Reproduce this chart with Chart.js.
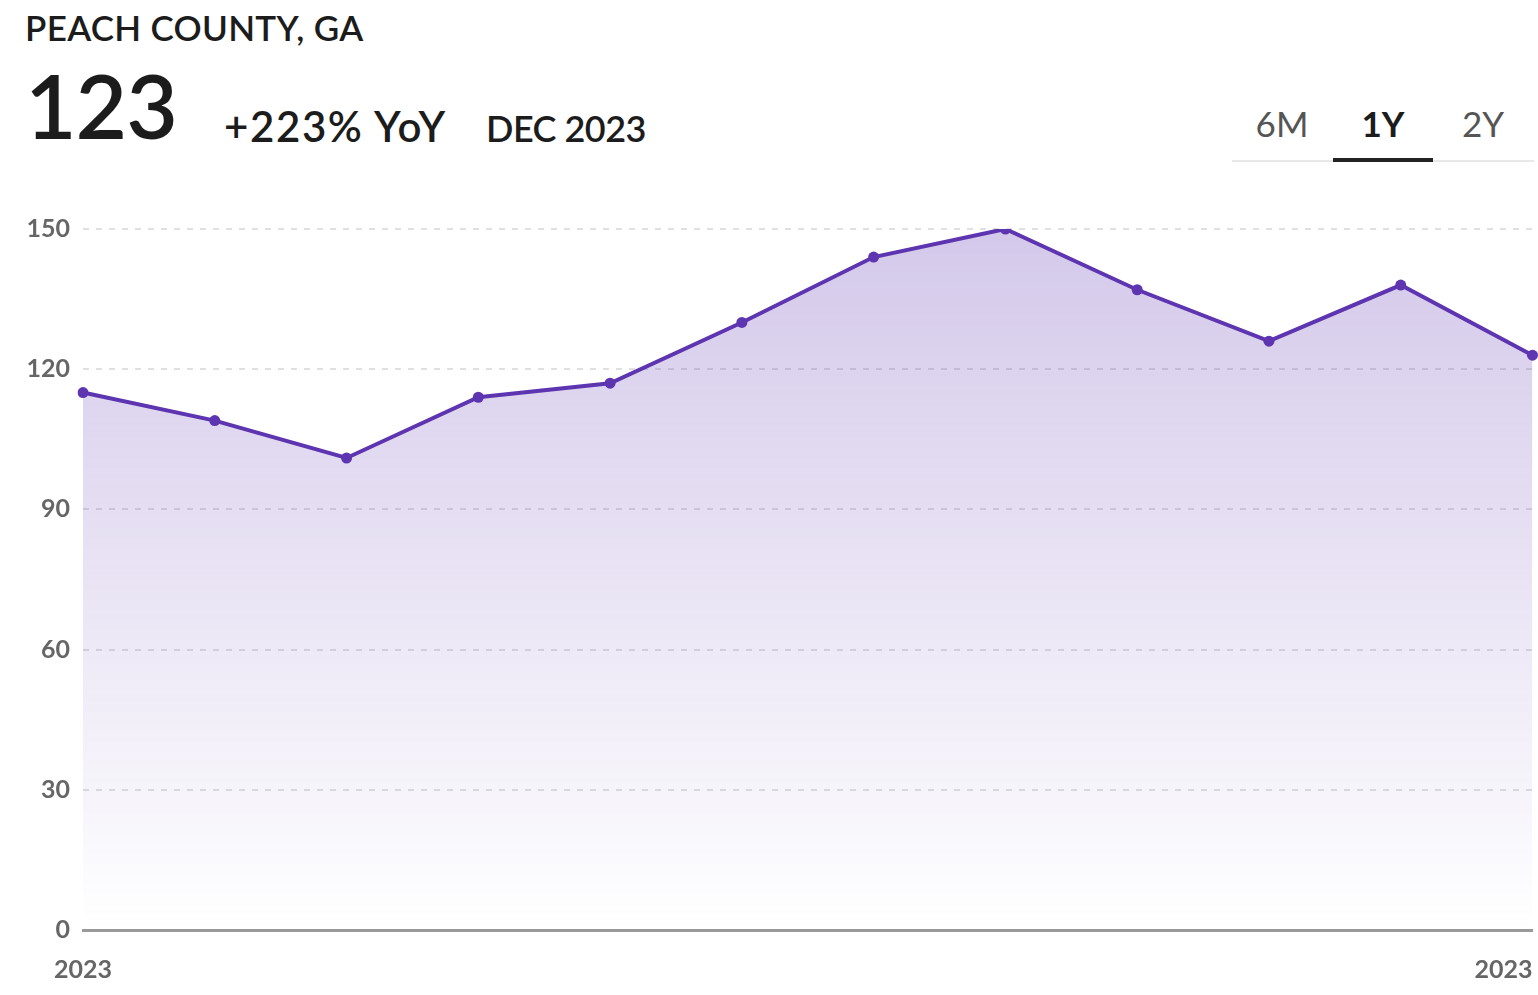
<!DOCTYPE html>
<html>
<head>
<meta charset="utf-8">
<script src="https://cdn.jsdelivr.net/npm/chart.js@4"></script>
<style>
  body { margin: 0; background: #fff; font-family: Lato, "Noto Sans", sans-serif; color: #1c1c1c; }
  #wrap { position: relative; width: 1538px; height: 995px; overflow: hidden; }
  .title { position: absolute; left: 25px; top: 6px; font-size: 35px; font-weight: 600; letter-spacing: 0.3px; }
  .big { position: absolute; left: 25px; top: 60px; font-size: 89px; font-weight: 600; line-height: 1; letter-spacing: -1px; }
  .yoy { position: absolute; left: 224px; top: 101px; font-size: 42px; font-weight: 600; letter-spacing: 1.6px; }
  .date { position: absolute; left: 486px; top: 106px; font-size: 36px; font-weight: 600; letter-spacing: -0.5px; }
  .tabs { position: absolute; left: 1232px; top: 102px; width: 302px; height: 58px; border-bottom: 2px solid #e8e8e8; }
  .tab { position: absolute; top: 0; width: 100px; text-align: center; font-size: 35px; color: #555; }
  .tab.on { color: #1c1c1c; font-weight: 700; border-bottom: 4px solid #222; height: 60px; box-sizing: border-box; }
  #chartBox { position: absolute; left: 0; top: 190px; width: 1538px; height: 805px; }
</style>
</head>
<body>
<div id="wrap">
  <div class="title">PEACH COUNTY, GA</div>
  <div class="big">123</div>
  <div class="yoy">+223% YoY</div>
  <div class="date">DEC 2023</div>
  <div class="tabs">
    <div class="tab" style="left:0">6M</div>
    <div class="tab on" style="left:101px">1Y</div>
    <div class="tab" style="left:201px">2Y</div>
  </div>
  <div id="chartBox"><canvas id="chart"></canvas></div>
</div>
<script>
// ===== DATA =====
const months = ['Jan 2023', 'Feb 2023', 'Mar 2023', 'Apr 2023', 'May 2023', 'Jun 2023',
  'Jul 2023', 'Aug 2023', 'Sep 2023', 'Oct 2023', 'Nov 2023', 'Dec 2023'];
const values = [115, 109, 101, 114, 117, 130, 144, 150, 137, 126, 138, 123];
const xTickLabels = ['2023', '', '', '', '', '', '', '', '', '', '', '2023'];
const yTicks = [0, 30, 60, 90, 120, 150];

const PURPLE = '#5e35b1';

// draw the two year labels under the axis (first centered, last flush right)
const yearLabels = {
  id: 'yearLabels',
  afterDraw(chart) {
    const { ctx, scales: { x } } = chart;
    ctx.save();
    ctx.font = 'bold 25px Lato';
    ctx.fillStyle = '#666';
    ctx.textBaseline = 'middle';
    const y = x.top + 40;
    xTickLabels.forEach((lbl, i) => {
      if (!lbl) return;
      const px = x.getPixelForValue(i);
      ctx.textAlign = i === xTickLabels.length - 1 ? 'right' : 'center';
      ctx.fillText(lbl, px, y);
    });
    ctx.restore();
  }
};

const ctx = document.getElementById('chart');
new Chart(ctx, {
  type: 'line',
  data: {
    labels: months,
    datasets: [{
      data: values,
      borderColor: PURPLE,
      borderWidth: 4,
      pointRadius: 5.5,
      pointBackgroundColor: PURPLE,
      pointBorderWidth: 0,
      tension: 0,
      fill: 'origin',
      backgroundColor: (c) => {
        const area = c.chart.chartArea;
        if (!area) return 'rgba(94,53,177,0.2)';
        const g = c.chart.ctx.createLinearGradient(0, area.top, 0, area.bottom);
        g.addColorStop(0, 'rgba(94,53,177,0.27)');
        g.addColorStop(1, 'rgba(94,53,177,0)');
        return g;
      }
    }]
  },
  options: {
    responsive: true,
    maintainAspectRatio: false,
    animation: false,
    layout: { padding: { top: 39, right: 4, left: 0, bottom: 0 } },
    plugins: { legend: { display: false }, tooltip: { enabled: false } },
    scales: {
      x: {
        offset: false,
        grid: { display: false, drawTicks: false },
        border: { display: true, color: '#999', width: 3 },
        ticks: { display: false },
        afterFit(scale) { scale.height = 65; }
      },
      y: {
        min: 0,
        max: 150,
        afterBuildTicks(scale) { scale.ticks = yTicks.map(v => ({ value: v })); },
        grid: {
          drawTicks: false,
          color: (c) => c.tick.value === 0 ? 'rgba(0,0,0,0)' : '#e0e0e0',
          lineWidth: 2
        },
        border: { display: false, dash: [6, 7] },
        ticks: { color: '#666', font: { family: 'Lato', size: 25, weight: 'bold' }, padding: 13 },
        afterFit(scale) { scale.width = 83; }
      }
    }
  },
  plugins: [yearLabels]
});
</script>
</body>
</html>
